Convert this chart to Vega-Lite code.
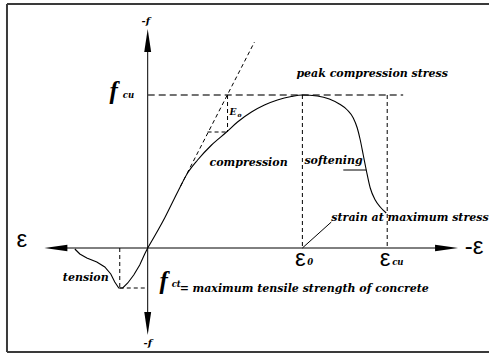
{
  "$schema": "https://vega.github.io/schema/vega-lite/v6.json",
  "width": 490,
  "height": 355,
  "autosize": {"type": "fit", "contains": "padding"},
  "padding": 0,
  "background": "white",
  "config": {"view": {"stroke": null}},
  "datasets": {
    "frame": [
      {"e": -141, "s": 244, "e2": 342, "s2": 244},
      {"e": -141, "s": 244, "e2": -141, "s2": -104},
      {"e": -141, "s": -104, "e2": 342, "s2": -104}
    ],
    "axes": [
      {"e": 0, "s": 210, "e2": 0, "s2": -78},
      {"e": -95, "s": 0, "e2": 302, "s2": 0}
    ],
    "arrows": [
      {"dir": "up", "e": 0, "s": 207.5},
      {"dir": "down", "e": 0, "s": -75.5},
      {"dir": "left", "e": -92, "s": 0},
      {"dir": "right", "e": 299.5, "s": 0}
    ],
    "fculine": [
      {"e": 0, "s": 153, "e2": 256, "s2": 153}
    ],
    "dashed": [
      {"e": 155, "s": 153, "e2": 155, "s2": 0},
      {"e": 240, "s": 153, "e2": 240, "s2": 0},
      {"e": 33, "s": 62, "e2": 107, "s2": 206},
      {"e": 80, "s": 153, "e2": 80, "s2": 116},
      {"e": 60, "s": 116, "e2": 80, "s2": 116},
      {"e": -28, "s": 0, "e2": -28, "s2": -40},
      {"e": -28, "s": -40, "e2": 0, "s2": -40}
    ],
    "leaders": [
      {"e": 155, "s": 0, "e2": 184, "s2": 26},
      {"e": 196, "s": 78, "e2": 219, "s2": 78}
    ],
    "compression": [
      {"i": 0, "e": 0, "s": 0},
      {"i": 1, "e": 17, "s": 30},
      {"i": 2, "e": 30, "s": 56},
      {"i": 3, "e": 40, "s": 75},
      {"i": 4, "e": 50, "s": 88},
      {"i": 5, "e": 64, "s": 103},
      {"i": 6, "e": 79, "s": 116},
      {"i": 7, "e": 90, "s": 126},
      {"i": 8, "e": 104, "s": 136},
      {"i": 9, "e": 117, "s": 143},
      {"i": 10, "e": 130, "s": 148},
      {"i": 11, "e": 144, "s": 151.5},
      {"i": 12, "e": 155, "s": 153},
      {"i": 13, "e": 170, "s": 152},
      {"i": 14, "e": 182, "s": 149},
      {"i": 15, "e": 192, "s": 144},
      {"i": 16, "e": 200, "s": 138},
      {"i": 17, "e": 206, "s": 130},
      {"i": 18, "e": 210, "s": 120},
      {"i": 19, "e": 213, "s": 108},
      {"i": 20, "e": 216, "s": 93},
      {"i": 21, "e": 219, "s": 78},
      {"i": 22, "e": 223, "s": 60},
      {"i": 23, "e": 228, "s": 48},
      {"i": 24, "e": 233, "s": 41},
      {"i": 25, "e": 239, "s": 35}
    ],
    "tension": [
      {"i": 0, "e": 0, "s": 0},
      {"i": 1, "e": -3, "s": -6},
      {"i": 2, "e": -8, "s": -17},
      {"i": 3, "e": -14, "s": -27},
      {"i": 4, "e": -20, "s": -35},
      {"i": 5, "e": -25, "s": -40},
      {"i": 6, "e": -29, "s": -40},
      {"i": 7, "e": -33, "s": -34},
      {"i": 8, "e": -37, "s": -26},
      {"i": 9, "e": -43, "s": -19},
      {"i": 10, "e": -51, "s": -14},
      {"i": 11, "e": -61, "s": -10},
      {"i": 12, "e": -68, "s": -6},
      {"i": 13, "e": -73, "s": -1}
    ],
    "labels": [
      {"t": "peak compression stress", "e": 149, "s": 174},
      {"t": "compression", "e": 62, "s": 85},
      {"t": "softening", "e": 157, "s": 87},
      {"t": "strain at maximum stress", "e": 184, "s": 30},
      {"t": "tension", "e": -85, "s": -30},
      {"t": "maximum tensile strength of concrete", "e": 45, "s": -41},
      {"t": "=", "e": 32, "s": -41}
    ],
    "flabels": [
      {"t": "-f", "e": -2, "s": 227},
      {"t": "-f", "e": 0, "s": -95}
    ],
    "bigf": [
      {"t": "f", "e": -34, "s": 157},
      {"t": "f", "e": 16, "s": -33}
    ],
    "subs": [
      {"t": "cu", "e": -25, "s": 153},
      {"t": "ct", "e": 24, "s": -36},
      {"t": "0", "e": 160, "s": -14},
      {"t": "cu", "e": 245, "s": -14}
    ],
    "elabel": [
      {"t": "E", "e": 82, "s": 136}
    ],
    "esub": [
      {"t": "o", "e": 90, "s": 133}
    ],
    "eps": [
      {"t": "ε", "e": -126, "s": 8},
      {"t": "-ε", "e": 327, "s": 1},
      {"t": "ε", "e": 153, "s": -11},
      {"t": "ε", "e": 238, "s": -11}
    ]
  },
  "encoding": {
    "x": {"field": "e", "type": "quantitative", "scale": {"domain": [-148, 342], "nice": false, "zero": false}, "axis": null},
    "y": {"field": "s", "type": "quantitative", "scale": {"domain": [-107, 248], "nice": false, "zero": false}, "axis": null}
  },
  "layer": [
    {
      "data": {"name": "frame"},
      "mark": {"type": "rule", "color": "#3a3a3a", "strokeWidth": 2},
      "encoding": {"x2": {"field": "e2"}, "y2": {"field": "s2"}}
    },
    {
      "data": {"name": "axes"},
      "mark": {"type": "rule", "color": "black", "strokeWidth": 1},
      "encoding": {"x2": {"field": "e2"}, "y2": {"field": "s2"}}
    },
    {
      "data": {"name": "arrows"},
      "mark": {"type": "point", "filled": true, "color": "black", "opacity": 1, "size": 529, "strokeWidth": 0},
      "encoding": {
        "shape": {"field": "dir", "type": "nominal", "legend": null,
          "scale": {"domain": ["up", "down", "left", "right"],
            "range": ["M0,-1L0.3,1L-0.3,1Z", "M0,1L0.3,-1L-0.3,-1Z", "M-1,0L1,-0.28L1,0.28Z", "M1,0L-1,-0.28L-1,0.28Z"]}}
      }
    },
    {
      "data": {"name": "fculine"},
      "mark": {"type": "rule", "color": "#444", "strokeWidth": 1.5, "strokeDash": [7, 4]},
      "encoding": {"x2": {"field": "e2"}, "y2": {"field": "s2"}}
    },
    {
      "data": {"name": "dashed"},
      "mark": {"type": "rule", "color": "black", "strokeWidth": 1, "strokeDash": [4, 3]},
      "encoding": {"x2": {"field": "e2"}, "y2": {"field": "s2"}}
    },
    {
      "data": {"name": "leaders"},
      "mark": {"type": "rule", "color": "black", "strokeWidth": 1},
      "encoding": {"x2": {"field": "e2"}, "y2": {"field": "s2"}}
    },
    {
      "data": {"name": "compression"},
      "mark": {"type": "line", "color": "black", "strokeWidth": 1.1, "interpolate": "monotone"},
      "encoding": {"order": {"field": "i", "type": "quantitative"}}
    },
    {
      "data": {"name": "tension"},
      "mark": {"type": "line", "color": "black", "strokeWidth": 1.1},
      "encoding": {"order": {"field": "i", "type": "quantitative"}}
    },
    {
      "data": {"name": "labels"},
      "mark": {"type": "text", "align": "left", "baseline": "middle", "font": "DejaVu Serif", "fontSize": 11, "fontWeight": "bold", "fontStyle": "italic", "color": "black"},
      "encoding": {"text": {"field": "t"}}
    },
    {
      "data": {"name": "flabels"},
      "mark": {"type": "text", "align": "center", "baseline": "middle", "font": "DejaVu Serif", "fontSize": 10, "fontWeight": "bold", "fontStyle": "italic", "color": "black"},
      "encoding": {"text": {"field": "t"}}
    },
    {
      "data": {"name": "bigf"},
      "mark": {"type": "text", "align": "center", "baseline": "middle", "font": "Liberation Serif", "fontSize": 25, "fontWeight": "bold", "fontStyle": "italic", "color": "black"},
      "encoding": {"text": {"field": "t"}}
    },
    {
      "data": {"name": "subs"},
      "mark": {"type": "text", "align": "left", "baseline": "middle", "font": "DejaVu Serif", "fontSize": 8.5, "fontWeight": "bold", "fontStyle": "italic", "color": "black"},
      "encoding": {"text": {"field": "t"}}
    },
    {
      "data": {"name": "elabel"},
      "mark": {"type": "text", "align": "left", "baseline": "middle", "font": "DejaVu Serif", "fontSize": 9, "fontWeight": "bold", "fontStyle": "italic", "color": "black"},
      "encoding": {"text": {"field": "t"}}
    },
    {
      "data": {"name": "esub"},
      "mark": {"type": "text", "align": "left", "baseline": "middle", "font": "DejaVu Serif", "fontSize": 6, "fontWeight": "bold", "fontStyle": "italic", "color": "black"},
      "encoding": {"text": {"field": "t"}}
    },
    {
      "data": {"name": "eps"},
      "mark": {"type": "text", "align": "center", "baseline": "middle", "font": "Liberation Sans", "fontSize": 24, "color": "black"},
      "encoding": {"text": {"field": "t"}}
    }
  ]
}
